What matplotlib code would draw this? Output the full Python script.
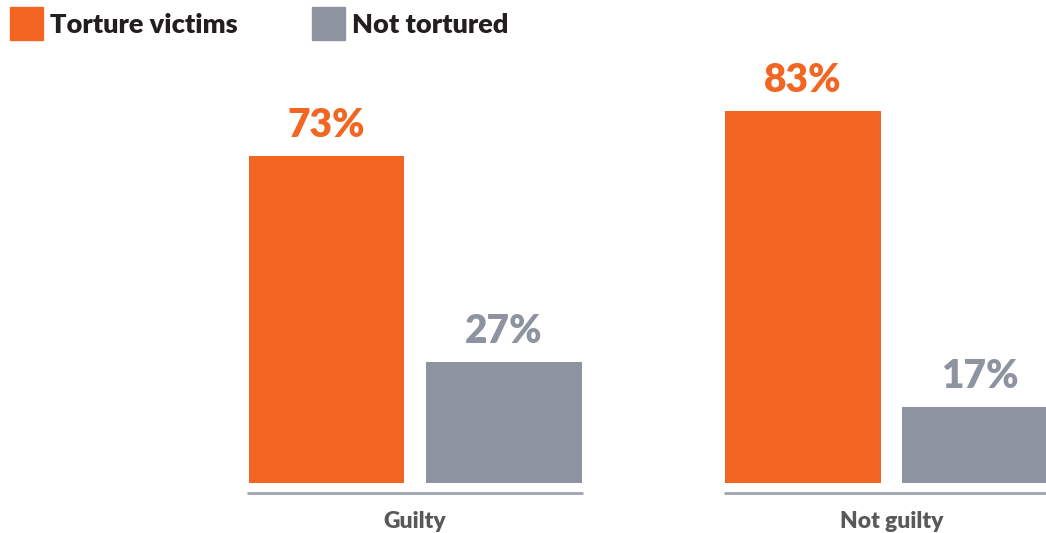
import matplotlib
matplotlib.use("Agg")
import matplotlib.pyplot as plt
from matplotlib.patches import Rectangle

# Share of defendants by verdict
groups = ["Guilty", "Not guilty"]
series_names = ["Torture victims", "Not tortured"]
torture_victims = [73, 83]
not_tortured = [27, 17]

ORANGE = "#F26522"
GRAY = "#8E93A0"
TEXT_DARK = "#231F20"
TEXT_MID = "#58595B"
FONT = ["Lato", "DejaVu Sans"]

fig = plt.figure(figsize=(10.46, 5.33), dpi=100)
ax = fig.add_axes([0, 0, 1, 1])
ax.set_xlim(-0.871, 1.324)
ax.set_ylim(-11.2, 107.8)
ax.axis("off")

width = 0.327
offset = 0.186
x = list(range(len(groups)))

for vals, color, shift in [(torture_victims, ORANGE, -offset),
                           (not_tortured, GRAY, offset)]:
    xs = [xi + shift for xi in x]
    ax.bar(xs, vals, width=width, color=color, zorder=2)
    for xi, v in zip(xs, vals):
        ax.text(xi, v + 2.6, f"{v}%", ha="center", va="bottom",
                fontsize=28, fontweight="heavy", color=color, family=FONT)

# Baseline rule and category label under each group
for xi, name in zip(x, groups):
    ax.plot([xi - 0.352, xi + 0.352], [-2.25, -2.25], color="#9EA3AF",
            lw=2, solid_capstyle="butt", zorder=1)
    ax.text(xi, -8.6, name, ha="center", va="center", fontsize=16.5,
            fontweight="heavy", color=TEXT_MID, family=FONT)

# Legend drawn in figure pixels
W, H = 1046, 533
for (px, name, color) in [(10, series_names[0], ORANGE),
                          (312, series_names[1], GRAY)]:
    fig.patches.append(Rectangle((px / W, 1 - 40 / H), 33 / W, 33 / H,
                                 transform=fig.transFigure, color=color))
    fig.text((px + 40) / W, 1 - 25 / H, name, ha="left", va="center",
             fontsize=19.5, fontweight="heavy", color=TEXT_DARK, family=FONT)

fig.savefig("out.png", dpi=100)
